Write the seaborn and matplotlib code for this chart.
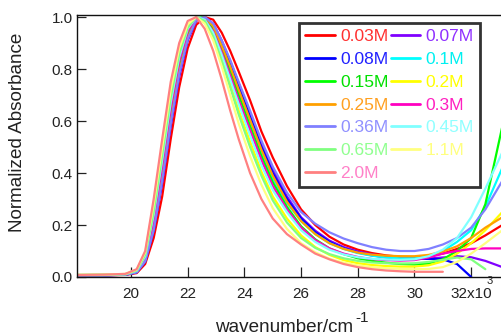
import matplotlib
matplotlib.use("Agg")
import matplotlib.pyplot as plt
import numpy as np
import pandas as pd
import seaborn as sns
from matplotlib.lines import Line2D

nan = np.nan

# wavenumber in units of 10^3 cm^-1
wavenumber = [18.1, 19.0, 19.8, 20.2, 20.5, 20.8, 21.1, 21.4, 21.7, 22.0, 22.3, 22.6,
              22.9, 23.2, 23.5, 23.8, 24.2, 24.6, 25.0, 25.5, 26.0, 26.5, 27.0, 27.5,
              28.0, 28.5, 29.0, 29.5, 30.0, 30.5, 31.0, 31.5, 32.0, 32.5, 33.1]

abs_003 = [0.005, 0.006, 0.008, 0.015, 0.05, 0.15, 0.31, 0.53, 0.73, 0.88, 0.97, 1.0,
           0.99, 0.94, 0.87, 0.79, 0.68, 0.56, 0.46, 0.35, 0.26, 0.2, 0.155, 0.125,
           0.105, 0.092, 0.083, 0.078, 0.076, 0.08, 0.09, 0.108, 0.13, 0.16, 0.2]
abs_007 = [0.006, 0.007, 0.009, 0.018, 0.06, 0.18, 0.36, 0.58, 0.77, 0.91, 0.985, 1.0,
           0.975, 0.91, 0.83, 0.745, 0.63, 0.515, 0.415, 0.31, 0.23, 0.178, 0.14, 0.115,
           0.098, 0.087, 0.078, 0.073, 0.07, 0.071, 0.075, 0.08, 0.076, 0.062, 0.038]
abs_008 = [0.006, 0.006, 0.009, 0.018, 0.06, 0.18, 0.37, 0.59, 0.78, 0.915, 0.99, 1.0,
           0.97, 0.9, 0.82, 0.73, 0.615, 0.5, 0.4, 0.3, 0.225, 0.172, 0.135, 0.11,
           0.094, 0.083, 0.076, 0.072, 0.07, 0.07, 0.068, 0.05, 0.0, nan, nan]
abs_010 = [0.007, 0.007, 0.01, 0.02, 0.07, 0.2, 0.4, 0.62, 0.8, 0.93, 0.995, 1.0,
           0.96, 0.885, 0.8, 0.71, 0.595, 0.48, 0.38, 0.285, 0.215, 0.165, 0.13, 0.108,
           0.092, 0.082, 0.075, 0.072, 0.072, 0.08, 0.1, 0.135, 0.18, 0.27, 0.42]
abs_015 = [0.007, 0.008, 0.01, 0.02, 0.07, 0.2, 0.4, 0.62, 0.8, 0.93, 0.995, 1.0,
           0.955, 0.88, 0.79, 0.7, 0.58, 0.465, 0.365, 0.27, 0.195, 0.145, 0.11, 0.088,
           0.072, 0.062, 0.055, 0.05, 0.048, 0.052, 0.068, 0.1, 0.15, 0.28, 0.58]
abs_020 = [0.008, 0.008, 0.011, 0.025, 0.085, 0.25, 0.47, 0.69, 0.86, 0.96, 1.0, 0.985,
           0.93, 0.84, 0.74, 0.64, 0.52, 0.405, 0.31, 0.225, 0.16, 0.115, 0.085, 0.065,
           0.053, 0.046, 0.042, 0.04, 0.04, 0.045, 0.06, 0.09, 0.13, 0.18, 0.25]
abs_025 = [0.006, 0.007, 0.01, 0.02, 0.065, 0.19, 0.38, 0.6, 0.79, 0.92, 0.99, 1.0,
           0.965, 0.89, 0.81, 0.72, 0.605, 0.49, 0.39, 0.29, 0.215, 0.165, 0.13, 0.108,
           0.094, 0.086, 0.082, 0.08, 0.08, 0.085, 0.098, 0.118, 0.15, 0.19, 0.23]
abs_030 = [0.007, 0.008, 0.011, 0.022, 0.075, 0.22, 0.43, 0.65, 0.83, 0.945, 1.0, 0.99,
           0.945, 0.865, 0.775, 0.68, 0.565, 0.45, 0.35, 0.26, 0.19, 0.142, 0.11, 0.09,
           0.077, 0.069, 0.065, 0.063, 0.065, 0.075, 0.09, 0.1, 0.108, 0.11, 0.11]
abs_036 = [0.006, 0.006, 0.009, 0.018, 0.06, 0.18, 0.37, 0.59, 0.78, 0.915, 0.99, 1.0,
           0.975, 0.91, 0.835, 0.75, 0.64, 0.525, 0.425, 0.325, 0.25, 0.205, 0.172, 0.148,
           0.13, 0.115, 0.105, 0.1, 0.1, 0.108, 0.125, 0.15, 0.19, 0.26, 0.37]
abs_045 = [0.008, 0.008, 0.011, 0.024, 0.08, 0.24, 0.45, 0.67, 0.845, 0.955, 1.0, 0.99,
           0.94, 0.855, 0.76, 0.665, 0.545, 0.43, 0.335, 0.25, 0.18, 0.135, 0.105, 0.087,
           0.076, 0.07, 0.067, 0.066, 0.068, 0.08, 0.105, 0.15, 0.23, 0.34, 0.48]
abs_065 = [0.008, 0.009, 0.011, 0.025, 0.085, 0.25, 0.47, 0.69, 0.86, 0.96, 1.0, 0.985,
           0.925, 0.83, 0.73, 0.625, 0.5, 0.39, 0.295, 0.21, 0.15, 0.112, 0.088, 0.072,
           0.062, 0.056, 0.053, 0.052, 0.053, 0.058, 0.066, 0.075, 0.068, 0.03, nan]
abs_110 = [0.008, 0.009, 0.012, 0.028, 0.095, 0.28, 0.5, 0.72, 0.88, 0.972, 1.0, 0.975,
           0.91, 0.81, 0.7, 0.59, 0.465, 0.355, 0.265, 0.185, 0.13, 0.095, 0.07, 0.055,
           0.045, 0.038, 0.034, 0.031, 0.03, 0.031, 0.038, 0.058, 0.09, 0.13, 0.18]
abs_200 = [0.008, 0.009, 0.012, 0.03, 0.1, 0.3, 0.53, 0.75, 0.9, 0.985, 1.0, 0.955,
           0.87, 0.76, 0.64, 0.53, 0.4, 0.3, 0.225, 0.165, 0.125, 0.09, 0.068, 0.05,
           0.038, 0.03, 0.025, 0.022, 0.02, 0.02, 0.02, nan, nan, nan, nan]

concentrations = ["0.03M", "0.07M", "0.08M", "0.1M", "0.15M", "0.2M", "0.25M",
                  "0.3M", "0.36M", "0.45M", "0.65M", "1.1M", "2.0M"]
spectra = [abs_003, abs_007, abs_008, abs_010, abs_015, abs_020, abs_025,
           abs_030, abs_036, abs_045, abs_065, abs_110, abs_200]

line_colors = ["#ff0000", "#8000ff", "#0000ff", "#00ffff", "#00ff00", "#ffff00", "#ffa000",
               "#ff00c0", "#8080ff", "#80ffff", "#80ff80", "#ffff80", "#ff8080"]
text_colors = ["#ff3030", "#9030ff", "#2020ff", "#00f0f0", "#00e000", "#ffff00", "#ffa020",
               "#ff20c0", "#9090ff", "#90ffff", "#90ff90", "#ffff80", "#ff80c8"]

x_ticks = [20, 22, 24, 26, 28, 30, 32]
x_tick_labels = ["20", "22", "24", "26", "28", "30", "32x10"]
y_ticks = [0.0, 0.2, 0.4, 0.6, 0.8, 1.0]

rows = []
for conc, vals in zip(concentrations, spectra):
    for x, y in zip(wavenumber, vals):
        rows.append({"wavenumber": x, "absorbance": y, "conc": conc})
df = pd.DataFrame(rows).dropna()

sns.set_theme(style="ticks")
plt.rcParams["font.family"] = ["Liberation Sans", "DejaVu Sans"]

fig = plt.figure(figsize=(5.02, 3.36), dpi=100)
ax = fig.add_axes([77 / 502, 59 / 336, 436.7 / 502, 262 / 336])

palette = dict(zip(concentrations, line_colors))
sns.lineplot(data=df, x="wavenumber", y="absorbance", hue="conc", hue_order=concentrations,
             palette=palette, linewidth=1.6, estimator=None, sort=False, legend=False, ax=ax)

ax.set_xlim(18.095, 33.5)
ax.set_ylim(0, 1.008)
ax.set_xticks(x_ticks)
ax.set_xticklabels(x_tick_labels)
ax.set_yticks(y_ticks)
ax.set_yticklabels([f"{v:.1f}" for v in y_ticks])
ax.tick_params(axis="x", direction="in", length=7.5, width=0.9, pad=7, labelsize=11,
               colors="#222222")
ax.tick_params(axis="y", direction="in", length=6.5, width=0.9, pad=3, labelsize=11,
               colors="#222222")
ax.set_xlabel("")
ax.set_ylabel("")
for side in ["left", "bottom", "top"]:
    ax.spines[side].set_color("#111111")
    ax.spines[side].set_linewidth(1.0)
ax.spines["right"].set_visible(False)

fig.text(490 / 502, 1 - 281 / 336, "3", ha="center", va="center", fontsize=8,
         color="#222222")
fig.text(18 / 502, 1 - 132 / 336, "Normalized Absorbance", rotation=90, ha="center",
         va="center", fontsize=13.6, color="#222222")
fig.text(353 / 502, 1 - 332 / 336, "wavenumber/cm", ha="right", va="baseline",
         fontsize=13.6, color="#222222")
fig.text(355 / 502, 1 - 322 / 336, "-1", ha="left", va="baseline",
         fontsize=11, color="#222222")

order = [0, 2, 4, 6, 8, 10, 12, 1, 3, 5, 7, 9, 11]
handles = [Line2D([], [], color=line_colors[i], linewidth=2) for i in order]
labels = [concentrations[i] for i in order]
leg = fig.legend(handles, labels, ncol=2, loc="upper left",
                 bbox_to_anchor=(299 / 502, 1 - 23 / 336), bbox_transform=fig.transFigure,
                 fontsize=12.5, handlelength=1.72, handletextpad=0.3, columnspacing=0.12,
                 labelspacing=0.44, borderpad=0.35, borderaxespad=0, frameon=True,
                 fancybox=False)
leg.get_frame().set_edgecolor("black")
leg.get_frame().set_linewidth(2)
for txt, i in zip(leg.get_texts(), order):
    txt.set_color(text_colors[i])

fig.savefig("out.png", dpi=100)
